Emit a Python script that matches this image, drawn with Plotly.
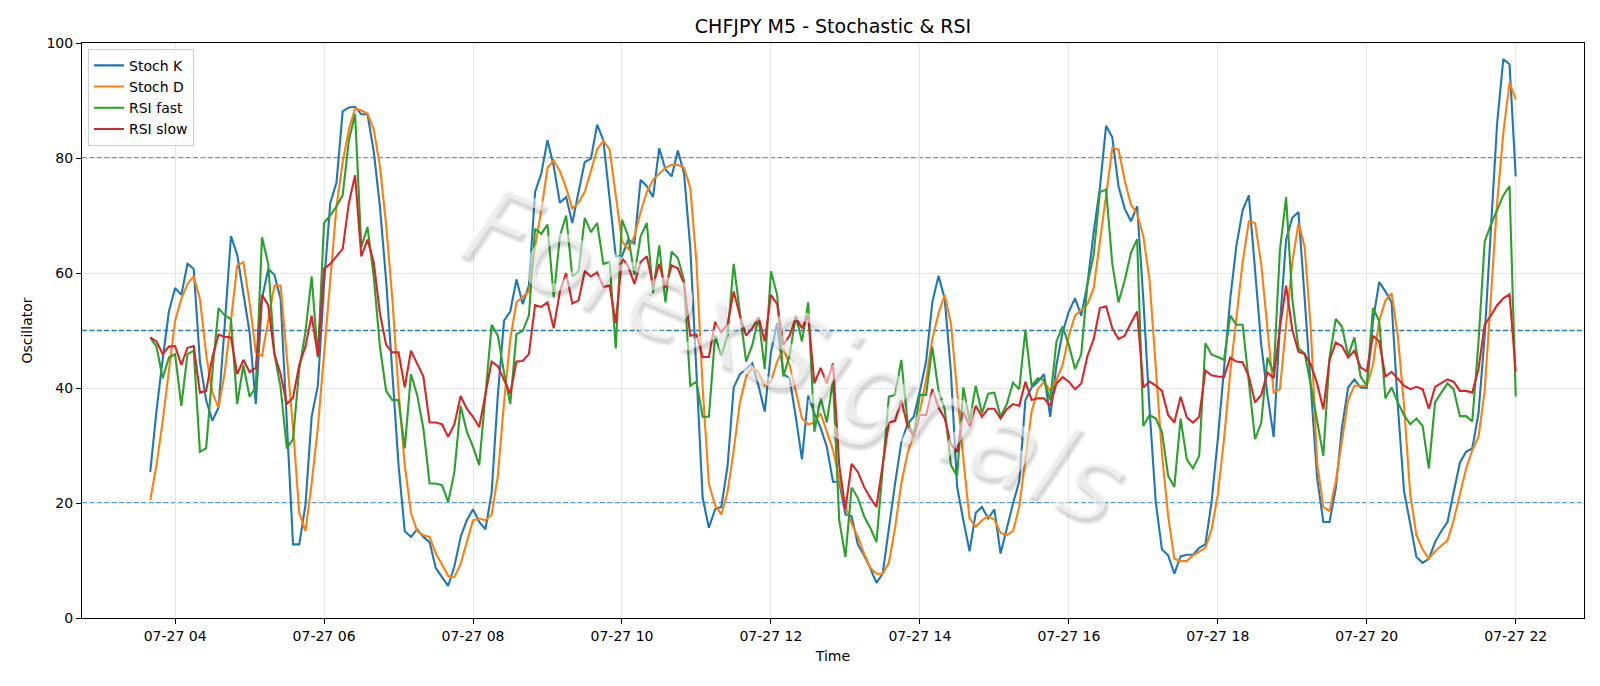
import pandas as pd
import plotly.graph_objects as go

title = "CHFJPY M5 - Stochastic & RSI"
start_time = "2025-07-27 03:40"
n_points = 221
times = pd.date_range(start_time, periods=n_points, freq="5min")

stoch_k = [25.4, 36, 45, 53.3, 57.4, 56.2, 61.6, 60.7, 44.6, 37.9,
           34.3, 36.6, 51, 66.4, 63.2, 56.8, 49.7, 37.2, 55.5, 60.7,
           59.7, 55.5, 35, 12.8, 12.8, 19.6, 35.0, 40.4, 58, 72.2,
           75.7, 88.1, 88.8, 88.9, 87.6, 87.6, 81.2, 71.6, 58.7, 42.7,
           26.6, 15.1, 14.1, 15.4, 14.1, 13.2, 8.7, 7.1, 5.6, 9.0,
           14.1, 17.0, 18.9, 16.7, 15.4, 21.8, 38.8, 51.7, 53.3, 58.9,
           54.6, 57.8, 74.1, 77.3, 83.1, 78.6, 72.2, 73.2, 68.7, 74.1,
           79.3, 79.9, 85.8, 83.1, 73.5, 62.9, 62.9, 65.8, 65.1, 76.2,
           75.1, 73.2, 81.7, 78.0, 76.8, 81.3, 77.3, 64.5, 42.7, 20.9,
           15.7, 18.9, 19.3, 26.3, 40.1, 42.4, 43.3, 44.3, 40.4, 35.9,
           46.2, 51.3, 42.4, 41.7, 35.0, 27.6, 38.7, 35.6, 33.1, 29.8,
           23.7, 23.7, 18, 17.7, 12.8, 10.9, 8.7, 6.1, 7.7, 15.7,
           23.4, 30.5, 33.7, 35.0, 39.5, 44.6, 54.9, 59.5, 55.5, 42.7,
           22.8, 17.0, 11.6, 18.3, 19.3, 17.3, 18.9, 11.2, 15.7, 19.9,
           23.7, 37.9, 40.1, 41.1, 42.4, 35.0, 44.0, 49.7, 53.3, 55.6,
           52.6, 58.1, 67.1, 74.8, 85.6, 83.6, 75.1, 71.2, 69.0, 71.6,
           55.5, 36.3, 20.2, 11.9, 10.9, 7.7, 10.7, 11.0, 11.0, 12.2,
           12.8, 20.2, 31.1, 44.0, 55.5, 64.8, 70.9, 73.5, 60.7, 47.5,
           38.8, 31.5, 51.0, 65.8, 69.6, 70.6, 55.5, 39.5, 24.4, 16.7,
           16.7, 22.5, 33.1, 40.1, 41.5, 40.1, 40.0, 51.7, 58.4, 56.8,
           54.9, 37.0, 22.1, 16.4, 10.6, 9.6, 10.3, 13.2, 15.1, 16.7,
           22.1, 27.0, 28.9, 29.5, 35.6, 49.1, 67.7, 86.0, 97.2, 96.3,
           76.8]

stoch_d = [20.5, 26.6, 34.3, 42.7, 51.7, 55.5, 58.1, 59.4, 55.5, 45.9,
           39.2, 36.6, 42.7, 51.7, 61.3, 61.9, 54.9, 46.2, 45.6, 51.7,
           57.8, 57.8, 45.9, 33.1, 18.3, 15.1, 23.4, 33.1, 45.9, 58.7,
           71.6, 79.3, 85.0, 88.6, 88.3, 87.7, 85.0, 78.6, 68.4, 55.5,
           39.5, 26.6, 18.3, 15.1, 14.4, 14.1, 11.2, 9.3, 7.3, 7.1,
           9.4, 13.2, 17.0, 17.3, 17.0, 18.0, 24.7, 37.5, 48.5, 54.9,
           55.8, 56.8, 64.5, 70.9, 78.3, 79.6, 77.7, 74.8, 71.2, 72.2,
           74.1, 77.7, 81.5, 83.0, 81.5, 73.5, 65.5, 64.2, 66.4, 70.6,
           74.1, 76.2, 77.3, 78.3, 78.8, 78.8, 78.3, 74.8, 61.9, 40.0,
           23.4, 19.6, 18.0, 21.8, 29.2, 37.5, 42.0, 43.6, 42.7, 40.4,
           41.1, 44.6, 46.9, 44.0, 39.5, 34.7, 33.7, 34.0, 35.6, 32.4,
           29.2, 24.4, 19.3, 16.4, 14.1, 11.2, 8.7, 7.7, 7.7, 9.6,
           15.7, 23.4, 28.6, 32.1, 35.9, 41.4, 48.5, 53.0, 56.2, 51.2,
           38.8, 27.6, 17.3, 15.9, 17.0, 17.7, 17.1, 14.8, 14.4, 15.1,
           19.3, 27.3, 35.9, 39.8, 41.1, 39.5, 41.4, 44.0, 49.1, 52.6,
           53.6, 54.6, 57.4, 65.1, 73.5, 81.7, 81.5, 76.1, 71.9, 70.3,
           66.4, 58.7, 43.3, 28.6, 17.7, 10.3, 9.9, 9.9, 10.9, 11.6,
           12.2, 15.4, 21.5, 31.1, 42.7, 52.3, 61.9, 69.0, 68.7, 61.5,
           50.4, 39.2, 39.8, 50.4, 61.9, 68.7, 64.5, 50.0, 27.0, 19.3,
           18.6, 23.7, 31.1, 37.9, 40.4, 40.4, 40.4, 44.0, 51.7, 55.2,
           56.5, 49.1, 37.0, 21.5, 14.4, 11.9, 10.3, 11.6, 12.5, 13.5,
           17.0, 21.5, 26.0, 29.2, 31.5, 39.5, 55.5, 72.2, 84.4, 93.1,
           90.2]

rsi_fast = [48.8, 47.2, 41.7, 45.3, 45.9, 36.9, 45.9, 46.5, 28.9, 29.5,
            42.7, 53.9, 52.6, 52.0, 37.2, 44.0, 38.5, 40.1, 66.2, 61.6,
            45.9, 40.1, 29.5, 31.1, 43.3, 49.7, 59.4, 45.3, 68.7, 70.0,
            71.6, 73.5, 83.1, 87.6, 64.5, 68.0, 59.4, 47.2, 39.5, 37.9,
            37.9, 29.5, 42.4, 38.8, 33.0, 23.4, 23.4, 23.1, 20.2, 25.4,
            36.9, 32.4, 29.8, 26.6, 38.8, 51.0, 49.1, 42.7, 37.2, 49.4,
            49.9, 52.6, 67.7, 66.8, 68.4, 55.8, 66.4, 70.0, 59.4, 60.3,
            69.6, 67.1, 68.7, 61.6, 61.9, 46.9, 69.3, 66.4, 59.7, 66.4,
            68.7, 56.5, 64.8, 54.9, 63.7, 62.6, 58.7, 40.4, 41.1, 35.0,
            35.0, 49.1, 45.6, 49.1, 61.6, 53.0, 44.6, 47.5, 52.3, 43.3,
            60.3, 56.2, 42.0, 45.6, 52.6, 48.1, 54.9, 32.4, 38.3, 34.0,
            41.4, 17.0, 10.6, 22.7, 20.9, 17.7, 15.7, 13.2, 26.0, 38.5,
            38.8, 44.9, 34.3, 31.8, 38.8, 38.8, 47.2, 39.5, 36.3, 26.6,
            24.7, 40.1, 34.3, 40.4, 35.6, 39.0, 39.2, 35.0, 37.2, 40.9,
            39.8, 50.1, 40.4, 41.7, 41.4, 37.9, 48.1, 50.7, 47.5, 43.3,
            45.9, 58.1, 63.2, 74.1, 74.5, 61.6, 54.9, 58.7, 63.5, 65.9,
            33.4, 35.3, 34.7, 32.4, 24.7, 22.8, 34.7, 27.6, 26.0, 28.2,
            47.8, 45.8, 45.4, 44.9, 52.6, 51.0, 51.0, 40.8, 31.1, 34.0,
            45.3, 42.7, 63.9, 73.2, 55.5, 46.9, 46.0, 40.4, 34.3, 28.2,
            45.3, 52.0, 50.7, 45.6, 48.8, 42.0, 40.4, 53.9, 51.7, 38.2,
            40.1, 37.5, 35.3, 33.7, 34.7, 33.4, 26.0, 37.5, 39.2, 40.8,
            39.8, 35.1, 35.1, 34.2, 48.0, 65.5, 68.4, 70.9, 73.5, 75.1,
            38.5]

rsi_slow = [48.8, 48.1, 45.9, 47.2, 47.3, 44.0, 47.0, 47.3, 39.2, 39.5,
            45.3, 49.3, 48.9, 48.8, 42.4, 44.9, 42.8, 43.5, 56.2, 54.4,
            45.9, 42.4, 37.2, 38.3, 44.0, 47.2, 52.6, 45.6, 60.7, 61.6,
            62.9, 64.2, 72.2, 77.0, 62.9, 65.8, 61.9, 53.0, 47.5, 46.2,
            46.2, 40.1, 46.5, 44.3, 42.0, 34.0, 34.0, 33.7, 31.5, 33.7,
            38.6, 36.4, 35.0, 33.2, 39.2, 44.6, 43.8, 41.4, 39.0, 44.6,
            44.7, 45.9, 54.4, 54.1, 54.9, 50.4, 56.8, 60.0, 54.7, 55.2,
            60.3, 59.4, 60.1, 57.6, 57.8, 51.3, 62.6, 61.2, 58.1, 61.9,
            62.9, 57.8, 61.6, 57.5, 61.3, 60.8, 58.1, 49.1, 49.3, 45.4,
            45.4, 51.5, 49.7, 51.0, 56.8, 52.6, 49.1, 50.4, 52.3, 48.1,
            56.2, 54.6, 47.5, 49.1, 52.2, 50.4, 52.6, 40.8, 43.5, 40.8,
            44.3, 26.6, 18.9, 26.8, 25.4, 22.8, 20.9, 19.3, 26.6, 34.0,
            34.3, 37.9, 33.4, 31.5, 35.3, 35.3, 39.8, 36.6, 34.7, 30.2,
            28.9, 35.9, 33.4, 36.9, 35.0, 36.4, 36.4, 34.7, 36.3, 37.2,
            36.9, 41.1, 37.9, 38.2, 38.2, 36.9, 40.8, 41.9, 41.1, 39.8,
            40.8, 45.6, 48.5, 53.9, 54.2, 50.4, 48.5, 49.1, 51.3, 53.3,
            40.1, 41.1, 40.4, 39.5, 35.3, 34.0, 38.5, 34.9, 34.0, 35.0,
            43.0, 42.2, 42.0, 41.9, 45.3, 44.6, 44.5, 42.0, 37.5, 38.8,
            42.7, 41.7, 50.4, 57.8, 50.1, 46.3, 45.9, 44.0, 40.8, 36.3,
            44.9, 47.9, 47.3, 45.3, 46.5, 43.6, 42.9, 49.1, 48.1, 42.0,
            42.8, 41.5, 40.4, 39.8, 40.2, 39.8, 36.4, 40.2, 40.9, 41.5,
            41.1, 39.5, 39.5, 39.2, 43.3, 51.0, 52.6, 54.4, 55.6, 56.3,
            42.8]

series_names = ["Stoch K", "Stoch D", "RSI fast", "RSI slow"]
series_colors = ["#1f77b4", "#ff7f0e", "#2ca02c", "#d62728"]
levels = [20, 50, 80]
watermark = "ForexSignals"

fig = go.Figure()
for name, vals, col in zip(series_names, [stoch_k, stoch_d, rsi_fast, rsi_slow], series_colors):
    fig.add_trace(go.Scatter(x=times, y=vals, mode="lines", name=name,
                             line=dict(color=col, width=2.1)))

for lv in levels:
    fig.add_hline(y=lv, line=dict(color="#1f77b4", width=1.3, dash="5px,2.4px"), layer="below")

font_main = "DejaVu Sans"
fig.add_annotation(text=watermark, xref="paper", yref="paper", x=0.475, y=0.458,
                   showarrow=False, textangle=23,
                   font=dict(family=font_main, size=110, color="rgba(255,255,255,0.55)",
                             style="italic",
                             shadow="4px 4px 3px rgba(0,0,0,0.3)"))

fig.update_layout(
    width=1600, height=686,
    margin=dict(l=82, r=16, t=43, b=68),
    paper_bgcolor="white", plot_bgcolor="white",
    font=dict(family=font_main, size=14, color="black"),
    title=dict(text=title, x=0.5, xref="paper", xanchor="center",
               y=1 - 26.5 / 686, yref="container", yanchor="middle",
               font=dict(size=19, family=font_main, color="black")),
    legend=dict(x=0.004, y=0.99, xanchor="left", yanchor="top",
                bgcolor="rgba(255,255,255,0.8)", bordercolor="#cccccc", borderwidth=1,
                font=dict(size=14, family=font_main), itemwidth=30, tracegroupgap=0),
    showlegend=True,
)
fig.update_xaxes(
    range=["2025-07-27 02:45", "2025-07-27 22:55"],
    dtick=2 * 3600 * 1000, tick0="2025-07-27 00:00", tickformat="%m-%d %H",
    showgrid=True, gridcolor="#e6e6e6", gridwidth=1,
    showline=True, mirror=True, linecolor="black", linewidth=1,
    ticks="outside", ticklen=5, tickcolor="black", tickfont=dict(size=14),
    title=dict(text="Time", font=dict(size=14), standoff=8), zeroline=False,
)
fig.update_yaxes(
    range=[0, 100], dtick=20,
    showgrid=True, gridcolor="#e6e6e6", gridwidth=1,
    showline=True, mirror=True, linecolor="black", linewidth=1,
    ticks="outside", ticklen=5, tickcolor="black", tickfont=dict(size=14),
    title=dict(text="Oscillator", font=dict(size=14), standoff=10), zeroline=False,
)

fig.write_html("out.html")
